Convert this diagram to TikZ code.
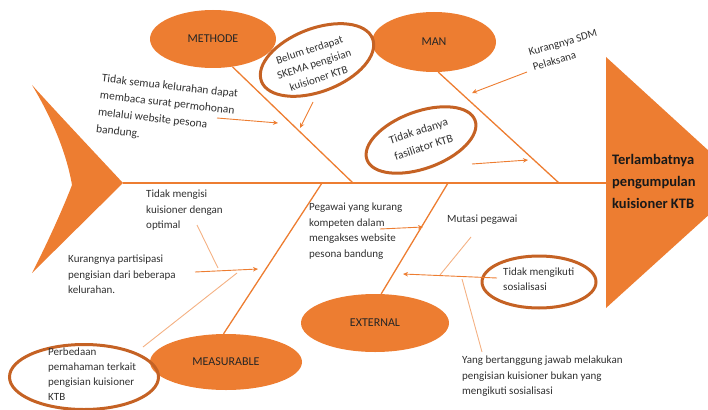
\documentclass[tikz,border=0pt]{standalone}
\usepackage{fontspec}
\setmainfont{Carlito}
\usetikzlibrary{shapes.geometric,arrows.meta}
\definecolor{fishorange}{RGB}{237,125,49}
\definecolor{ringbrown}{RGB}{197,98,36}
\definecolor{twigorange}{RGB}{244,177,131}
\definecolor{notegray}{RGB}{48,48,48}
\begin{document}
\begin{tikzpicture}[x=1pt,y=-1pt,
    bone/.style={draw=fishorange,line width=1.3pt},
    cause/.style={ellipse,fill=fishorange,inner sep=0pt,text=black!85,
      font=\fontsize{12}{14}\selectfont},
    ring/.style={ellipse,draw=ringbrown,line width=3pt,inner sep=0pt},
    note/.style={align=left,inner sep=0pt,text=notegray,
      font=\fontsize{11}{15.5}\selectfont},
    pointer/.style={draw=fishorange,line width=0.9pt,-{Stealth[length=5pt,width=4.5pt]}},
    twig/.style={draw=twigorange,line width=0.9pt}]
  \useasboundingbox (0,0) rectangle (708,409);
  \clip (0,0) rectangle (708,409);
  \fill[fishorange] (606,57) -- (744,183) -- (606,308) -- cycle;
  \fill[fishorange] (32,85) .. controls (62,118) and (95,153) .. (123,183)
    -- (32,273) .. controls (48,242) and (64,206) .. (72,185)
    .. controls (66,150) and (50,115) .. (32,85) -- cycle;
  \node[anchor=north west,align=left,inner sep=0pt,text=black!90,
    font=\fontsize{14.5}{22}\selectfont\bfseries] (effect) at (612,154)
    {Terlambatnya\\pengumpulan\\kuisioner KTB};
  \coordinate (tail) at (123,183);
  \coordinate (head) at (606,183);
  \coordinate (jmethode) at (353,183);
  \coordinate (jman) at (559,183);
  \coordinate (jmeasurable) at (322,183);
  \coordinate (jexternal) at (448,183);
  \draw[bone,line width=1.5pt] (tail) -- (head);
  \node[cause,minimum width=126pt,minimum height=58pt] (methode) at (213,39) {METHODE};
  \node[cause,minimum width=124pt,minimum height=60pt] (man) at (434,42) {MAN};
  \node[cause,minimum width=152pt,minimum height=56pt] (measurable) at (226,362) {MEASURABLE};
  \node[cause,minimum width=148pt,minimum height=58pt] (external) at (375,323) {EXTERNAL};
  \begin{scope}[bone]
    \draw (methode.-55) to (jmethode);
    \draw (man.-82) to (jman);
    \draw (measurable.95) to (jmeasurable);
    \draw (external.78) to (jexternal);
  \end{scope}
  \node[ring,minimum width=119pt,minimum height=63pt,rotate=21] (skemaring) at (317,60) {};
  \node[ring,minimum width=115pt,minimum height=57pt,rotate=20] (fasiliatorring) at (421,140) {};
  \node[ring,minimum width=114pt,minimum height=52pt] (sosialisasiring) at (539,282) {};
  \node[ring,minimum width=149pt,minimum height=65pt] (perbedaanring) at (84,377) {};
  \node[note,align=center,rotate=18,font=\fontsize{11}{15}\selectfont] (skema) at (314,64)
    {Belum terdapat\\SKEMA pengisian\\kuisioner KTB};
  \node[note,rotate=-6.5,font=\fontsize{11.5}{17}\selectfont] (membaca) at (167,112)
    {Tidak semua kelurahan dapat\\membaca surat permohonan\\melalui website pesona\\bandung.};
  \node[note,rotate=16] (sdm) at (565,50) {Kurangnya SDM\\Pelaksana};
  \node[note,align=center,rotate=18,font=\fontsize{11.5}{17}\selectfont] (fasiliator) at (421,139)
    {Tidak adanya\\fasiliator KTB};
  \node[note,anchor=north west] (optimal) at (146,190)
    {Tidak mengisi\\kuisioner dengan\\optimal};
  \node[note,anchor=north west] (partisipasi) at (68,255)
    {Kurangnya partisipasi\\pengisian dari beberapa\\kelurahan.};
  \node[note,anchor=north west,font=\fontsize{11}{15}\selectfont] (perbedaan) at (48,348)
    {Perbedaan\\pemahaman terkait\\pengisian kuisioner\\KTB};
  \node[note,anchor=north west] (pegawai) at (309,203)
    {Pegawai yang kurang\\kompeten dalam\\mengakses website\\pesona bandung};
  \node[note,anchor=north west] (mutasi) at (447,215) {Mutasi pegawai};
  \node[note,anchor=north west,font=\fontsize{11}{14.5}\selectfont] (sosialisasi) at (503,268)
    {Tidak mengikuti\\sosialisasi};
  \node[note,anchor=north west] (bertanggung) at (462,356)
    {Yang bertanggung jawab melakukan\\pengisian kuisioner bukan yang\\mengikuti sosialisasi};
  \coordinate (skemafrom) at (313,102);
  \coordinate (skemato) at (300,128);
  \coordinate (membacafrom) at (217,118);
  \coordinate (membacato) at (278,123);
  \coordinate (sdmfrom) at (527,72);
  \coordinate (sdmto) at (472,93);
  \coordinate (fasiliatorfrom) at (472,164);
  \coordinate (fasiliatorto) at (528,160);
  \coordinate (partisipasifrom) at (195,272);
  \coordinate (partisipasito) at (258,269);
  \coordinate (pegawaifrom) at (380,229);
  \coordinate (pegawaito) at (423,227);
  \coordinate (sosialisasifrom) at (497,278);
  \coordinate (sosialisasito) at (403,274);
  \begin{scope}[pointer]
    \draw (skemafrom) to (skemato);
    \draw (membacafrom) to (membacato);
    \draw (sdmfrom) to (sdmto);
    \draw (fasiliatorfrom) to (fasiliatorto);
    \draw (partisipasifrom) to (partisipasito);
    \draw (pegawaifrom) to (pegawaito);
    \draw (sosialisasifrom) to (sosialisasito);
  \end{scope}
  \coordinate (optimaltop) at (197,225);
  \coordinate (optimalend) at (218,268);
  \coordinate (perbedaantop) at (143,347);
  \coordinate (perbedaanend) at (237,273);
  \coordinate (mutasitop) at (471,237);
  \coordinate (mutasiend) at (440,275);
  \coordinate (bertanggungtop) at (462,279);
  \coordinate (bertanggungend) at (482,352);
  \begin{scope}[twig]
    \draw (optimaltop) to (optimalend);
    \draw (perbedaantop) to (perbedaanend);
    \draw (mutasitop) to (mutasiend);
    \draw (bertanggungtop) to (bertanggungend);
  \end{scope}
\end{tikzpicture}
\end{document}
